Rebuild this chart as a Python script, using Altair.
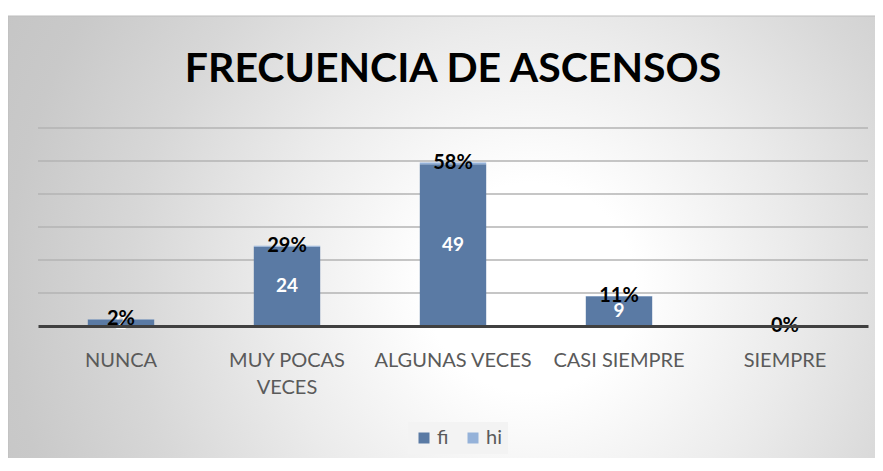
import altair as alt
import pandas as pd

categories = ["NUNCA", "MUY POCAS VECES", "ALGUNAS VECES", "CASI SIEMPRE", "SIEMPRE"]
fi = [2, 24, 49, 9, 0]
hi = [0.024, 0.286, 0.583, 0.107, 0.0]
series = ["fi", "hi"]
series_colors = ["#5a7aa4", "#95b2d9"]
grid_values = [10, 20, 30, 40, 50, 60]
title_text = "FRECUENCIA DE ASCENSOS"

df = pd.DataFrame({"cat": categories, "fi": fi, "hi": hi})

x_enc = alt.X(
    "cat:N",
    sort=categories,
    scale=alt.Scale(paddingInner=0.6, paddingOuter=0.3),
    axis=alt.Axis(
        title=None, labelAngle=0, ticks=False, domainColor="#404040", domainWidth=3,
        labelFont="Lato", labelFontSize=20, labelFontWeight="normal", labelColor="#5a5a5a",
        labelPadding=24, labelLineHeight=27, labelOverlap=False, labelBaseline="top",
        zindex=1, grid=False,
        labelExpr="datum.value == 'MUY POCAS VECES' ? ['MUY POCAS', 'VECES'] : datum.value",
    ),
)
y_scale = alt.Scale(domain=[0, 60])

bg = alt.Chart(pd.DataFrame({"k": [0]})).mark_rect(
    fill={
        "gradient": "radial",
        "x1": 0.6, "y1": 0.55, "r1": 0,
        "x2": 0.6, "y2": 0.55, "r2": 1,
        "stops": [
            {"offset": 0, "color": "#ffffff"},
            {"offset": 0.12, "color": "#ffffff"},
            {"offset": 0.3, "color": "#ebebeb"},
            {"offset": 0.46, "color": "#d7d7d7"},
            {"offset": 0.6, "color": "#c9c9c9"},
            {"offset": 0.75, "color": "#c2c2c2"},
        ],
    },
    stroke="#bdbdbd", strokeWidth=1,
).encode(x=alt.value(-30), x2=alt.value(841), y=alt.value(-112), y2=alt.value(344))

grid = alt.Chart(pd.DataFrame({"g": grid_values})).mark_rule(
    color="#b3b3b3", strokeWidth=1.5
).encode(y=alt.Y("g:Q", scale=y_scale, axis=None), x=alt.value(0), x2=alt.value(830))

title = alt.Chart(pd.DataFrame({"t": [title_text]})).mark_text(
    font="Lato", fontSize=41, fontWeight="bold", color="black", align="center", baseline="alphabetic"
).encode(text="t:N", x=alt.value(415), y=alt.value(-46))

bars = alt.Chart(df).transform_fold(["fi", "hi"], as_=["serie", "value"]).mark_bar().encode(
    x=x_enc,
    y=alt.Y("value:Q", stack="zero", scale=y_scale, axis=None),
    color=alt.Color(
        "serie:N",
        scale=alt.Scale(domain=series, range=series_colors),
        legend=alt.Legend(
            title=None, orient="none", legendX=370, legendY=294, direction="horizontal",
            symbolType="square", symbolSize=121, symbolStrokeWidth=0,
            labelFont="Lato", labelFontSize=20, labelFontWeight="normal", labelColor="#5a5a5a",
            columnPadding=14, labelOffset=3, padding=6, fillColor="#f3f3f3",
        ),
    ),
    order=alt.Order("serie:N", sort="ascending"),
)

fi_text = alt.Chart(df).transform_filter("datum.fi > 0").transform_calculate(
    ypos="datum.fi / 2"
).mark_text(font="Lato", fontSize=19, fontWeight="bold", color="white", baseline="middle").encode(
    x=alt.X("cat:N", sort=categories),
    y=alt.Y("ypos:Q", scale=y_scale),
    text=alt.Text("fi:Q", format="d"),
)

hi_text = alt.Chart(df).transform_calculate(
    ypos="datum.fi + datum.hi / 2"
).mark_text(font="Lato", fontSize=20, fontWeight="bold", color="black", baseline="middle").encode(
    x=alt.X("cat:N", sort=categories),
    y=alt.Y("ypos:Q", scale=y_scale),
    text=alt.Text("hi:Q", format=".0%"),
)

chart = alt.layer(bg, grid, title, bars, fi_text, hi_text).properties(
    width=830, height=198,
    autosize=alt.AutoSizeParams(type="none"),
    padding={"left": 30, "top": 120, "right": 7, "bottom": 132},
).configure_view(stroke=None).configure(background="white")

chart.save("out.html", embed_options={"renderer": "svg", "actions": False})
